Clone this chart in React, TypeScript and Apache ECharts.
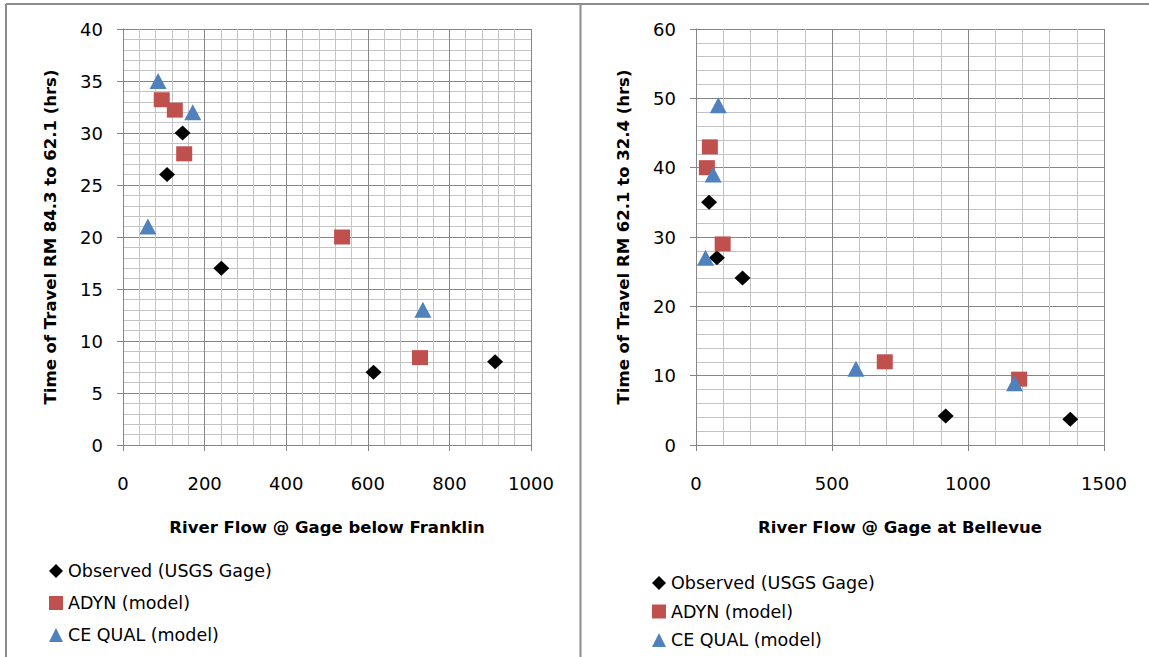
import React, { useEffect, useRef } from "react";
import * as echarts from "echarts";

// Left chart: River Flow @ Gage below Franklin
const leftObsX = [146, 108, 241, 614, 912];
const leftObsY = [30, 26, 17, 7, 8];
const leftAdynX = [95, 127, 150, 537, 728];
const leftAdynY = [33.2, 32.2, 28, 20, 8.4];
const leftCeX = [86, 171, 61, 735];
const leftCeY = [35, 32, 21, 13];

// Right chart: River Flow @ Gage at Bellevue
const rightObsX = [48, 77, 171, 918, 1376];
const rightObsY = [35, 27, 24.1, 4.2, 3.7];
const rightAdynX = [51, 40, 98, 694, 1188];
const rightAdynY = [43, 40, 29, 12, 9.5];
const rightCeX = [82, 63, 35, 588, 1171];
const rightCeY = [49, 39, 27, 11, 8.9];

const seriesNames = ["Observed (USGS Gage)", "ADYN (model)", "CE QUAL (model)"];
const seriesColors = ["#000000", "#C0504D", "#4F81BD"];
const seriesSymbols = ["diamond", "rect", "triangle"];

const leftXTitle = "River Flow @ Gage below Franklin";
const leftYTitle = "Time of Travel RM 84.3 to 62.1 (hrs)";
const rightXTitle = "River Flow @ Gage at Bellevue";
const rightYTitle = "Time of Travel RM 62.1 to 32.4 (hrs)";

const FONT = "DejaVu Sans";

const zip = (xs: number[], ys: number[]) => xs.map((x, i) => [x, ys[i]]);

export default function App() {
  const ref = useRef<HTMLDivElement>(null);

  useEffect(() => {
    if (!ref.current) return;
    const chart = echarts.init(ref.current, null, { renderer: "svg" });

    const symbolSizes: any[] = [[16, 15], [16, 15], [17, 16]];
    const plain = (v: number) => String(v);

    const mkX = (idx: number, max: number, interval: number, name: string) => ({
      type: "value",
      gridIndex: idx,
      min: 0,
      max,
      interval,
      name,
      nameLocation: "middle",
      nameGap: 74,
      nameTextStyle: { fontFamily: FONT, fontSize: 16.5, fontWeight: "bold", color: "#000" },
      axisLine: { show: true, onZero: false, lineStyle: { color: "#868686", width: 1 } },
      axisTick: { show: true, inside: false, length: 6, lineStyle: { color: "#868686" } },
      minorTick: { show: false, splitNumber: 5 },
      axisLabel: { fontFamily: FONT, fontSize: 18, color: "#000", margin: 29, formatter: plain },
      splitLine: { show: true, lineStyle: { color: "#868686", width: 1 } },
      minorSplitLine: { show: true, lineStyle: { color: "#c4c4c4", width: 1 } },
    });
    const mkY = (idx: number, max: number, interval: number, name: string) => ({
      type: "value",
      gridIndex: idx,
      min: 0,
      max,
      interval,
      name,
      nameLocation: "middle",
      nameGap: 64,
      nameTextStyle: { fontFamily: FONT, fontSize: 16.5, fontWeight: "bold", color: "#000" },
      axisLine: { show: true, onZero: false, lineStyle: { color: "#868686", width: 1 } },
      axisTick: { show: true, inside: false, length: 6, lineStyle: { color: "#868686" } },
      minorTick: { show: false, splitNumber: 5 },
      axisLabel: { fontFamily: FONT, fontSize: 18, color: "#000", margin: 20, formatter: plain },
      splitLine: { show: true, lineStyle: { color: "#868686", width: 1 } },
      minorSplitLine: { show: true, lineStyle: { color: "#c4c4c4", width: 1 } },
    });

    const leftSets = [zip(leftObsX, leftObsY), zip(leftAdynX, leftAdynY), zip(leftCeX, leftCeY)];
    const rightSets = [zip(rightObsX, rightObsY), zip(rightAdynX, rightAdynY), zip(rightCeX, rightCeY)];

    const series: any[] = [];
    [leftSets, rightSets].forEach((sets, gi) => {
      sets.forEach((data, si) => {
        series.push({
          type: "scatter",
          name: seriesNames[si],
          xAxisIndex: gi,
          yAxisIndex: gi,
          data,
          symbol: seriesSymbols[si],
          symbolSize: symbolSizes[si],
          itemStyle: { color: seriesColors[si], opacity: 1 },
          z: 2 + si,
        });
      });
    });

    const legendData = seriesNames.map((n, i) => ({ name: n, icon: seriesSymbols[i] }));
    const mkLegend = (left: number, top: number, gap: number) => ({
      show: true,
      orient: "vertical",
      left,
      top,
      padding: 0,
      itemGap: gap,
      itemWidth: 14,
      itemHeight: 14,
      selectedMode: false,
      data: legendData,
      textStyle: { fontFamily: FONT, fontSize: 17.5, color: "#000", lineHeight: 18 },
    });

    const border = { stroke: "#8c8c8c", lineWidth: 2 };

    chart.setOption({
      animation: false,
      backgroundColor: "#ffffff",
      color: seriesColors,
      textStyle: { fontFamily: FONT },
      grid: [
        { left: 123, top: 29, width: 408, height: 416, containLabel: false },
        { left: 696, top: 29, width: 408, height: 416, containLabel: false },
      ],
      xAxis: [mkX(0, 1000, 200, leftXTitle), mkX(1, 1500, 500, rightXTitle)],
      yAxis: [mkY(0, 40, 5, leftYTitle), mkY(1, 60, 10, rightYTitle)],
      legend: [mkLegend(49, 562, 14), mkLegend(652, 574, 10.5)],
      series,
      graphic: [
        { type: "line", shape: { x1: 6, y1: 4, x2: 1149, y2: 4 }, style: border, silent: true },
        { type: "line", shape: { x1: 6, y1: 4, x2: 6, y2: 657 }, style: border, silent: true },
        { type: "line", shape: { x1: 580.5, y1: 4, x2: 580.5, y2: 657 }, style: border, silent: true },
      ],
    });

    return () => chart.dispose();
  }, []);

  return (
    <div
      ref={ref}
      style={{ position: "absolute", left: 0, top: 0, width: 1149, height: 657, background: "#fff" }}
    />
  );
}
